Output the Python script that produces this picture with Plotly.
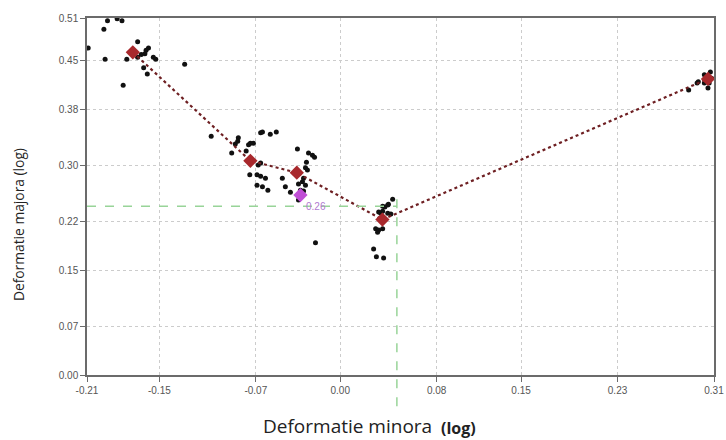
import plotly.graph_objects as go

# Measured strain points (log scale): minor strain vs major strain
minor_strain = [
    -0.193, -0.181, -0.185, -0.196, -0.209, -0.168, -0.159, -0.161, -0.168, -0.177,
    -0.195, -0.155, -0.153, -0.163, -0.160, -0.129, -0.180, -0.165, -0.162,
    -0.107, -0.0845, -0.085, -0.087, -0.066, -0.0645, -0.058, -0.053, -0.0745, -0.072,
    -0.076, -0.090, -0.078, -0.066, -0.068, -0.075, -0.069, -0.066, -0.062, -0.069,
    -0.0645, -0.060, -0.048, -0.0455, -0.0355, -0.0263, -0.023, -0.0213, -0.028, -0.0288,
    -0.0272, -0.0304, -0.0313, -0.0346, -0.0288, -0.0413, -0.033, -0.0304, -0.0346, -0.0205,
    0.0435, 0.0394, 0.040, 0.037, 0.0352, 0.0319, 0.0352, 0.0336, 0.0394, 0.042,
    0.0294, 0.0319, 0.0352, 0.031, 0.0277, 0.030, 0.036,
    0.289, 0.296, 0.297, 0.302, 0.305, 0.308, 0.3035, 0.306, 0.302, 0.305, 0.307,
]
major_strain = [
    0.506, 0.506, 0.509, 0.494, 0.467, 0.476, 0.467, 0.464, 0.454, 0.451,
    0.451, 0.454, 0.451, 0.439, 0.430, 0.444, 0.414, 0.458, 0.459,
    0.341, 0.339, 0.334, 0.330, 0.346, 0.347, 0.344, 0.347, 0.331, 0.331,
    0.329, 0.317, 0.320, 0.303, 0.300, 0.286, 0.286, 0.284, 0.281, 0.271,
    0.269, 0.264, 0.281, 0.269, 0.323, 0.317, 0.314, 0.311, 0.304, 0.296,
    0.293, 0.281, 0.276, 0.273, 0.271, 0.261, 0.264, 0.263, 0.250, 0.189,
    0.251, 0.243, 0.244, 0.240, 0.241, 0.233, 0.234, 0.231, 0.231, 0.230,
    0.209, 0.207, 0.209, 0.204, 0.180, 0.169, 0.167,
    0.407, 0.417, 0.419, 0.429, 0.426, 0.424, 0.419, 0.417, 0.417, 0.410, 0.433,
]

# Mean points of each group, joined by the forming limit path
mean_minor = [-0.172, -0.0745, -0.036, 0.035, 0.305]
mean_major = [0.461, 0.306, 0.289, 0.222, 0.423]

# Highlighted reference point
ref_minor = [-0.033]
ref_major = [0.257]
ref_label = "0.26"

# Guide lines (green dashed)
guide_x = 0.047
guide_y = 0.241

x_ticks = [-0.21, -0.15, -0.07, 0.00, 0.08, 0.15, 0.23, 0.31]
x_tick_text = ["-0.21", "-0.15", "-0.07", "0.00", "0.08", "0.15", "0.23", "0.31"]
y_ticks = [0.00, 0.07, 0.15, 0.22, 0.30, 0.38, 0.45, 0.51]
y_tick_text = ["0.00", "0.07", "0.15", "0.22", "0.30", "0.38", "0.45", "0.51"]

x_range = [-0.21, 0.31]
y_range = [0.0, 0.51]

fig = go.Figure()

fig.add_trace(go.Scatter(
    x=minor_strain, y=major_strain, mode="markers",
    marker=dict(color="#111111", size=5),
    hoverinfo="x+y", showlegend=False,
))

fig.add_trace(go.Scatter(
    x=mean_minor, y=mean_major, mode="lines",
    line=dict(color="#6e1f22", width=2.2, dash="dot"),
    showlegend=False,
))

fig.add_trace(go.Scatter(
    x=mean_minor, y=mean_major, mode="markers",
    marker=dict(color="#a8282c", size=11, symbol="diamond"),
    showlegend=False,
))

fig.add_trace(go.Scatter(
    x=ref_minor, y=ref_major, mode="markers",
    marker=dict(color="#c04fd6", size=11, symbol="diamond"),
    showlegend=False,
))

fig.add_annotation(
    x=ref_minor[0], y=ref_major[0], text=ref_label, showarrow=False,
    xshift=16, yshift=-11,
    font=dict(family="Liberation Sans Narrow, Liberation Sans, Arial", size=10, color="#b07ad0"),
)

# Green dashed guides
guide_style = dict(color="#98d498", width=1.5, dash="dash")
fig.add_shape(type="line", xref="x", yref="y", x0=x_range[0], x1=guide_x,
              y0=guide_y, y1=guide_y, line=guide_style, layer="above")
fig.add_shape(type="line", xref="x", yref="paper", x0=guide_x, x1=guide_x,
              y0=(guide_y + 0.01 - y_range[0]) / (y_range[1] - y_range[0]), y1=-0.11,
              line=guide_style, layer="above")

axis_font = dict(family="Liberation Sans Narrow, Liberation Sans, Arial", size=10, color="#555555")
title_family = "Open Sans, DejaVu Sans, sans-serif"

# Axis titles
fig.add_annotation(
    xref="paper", yref="paper", x=0.416, y=-0.143, xanchor="center", yanchor="middle",
    text="Deformatie minora", showarrow=False,
    font=dict(family=title_family, size=19, color="#222222"),
)
fig.add_annotation(
    xref="paper", yref="paper", x=0.592, y=-0.149, xanchor="center", yanchor="middle",
    text="<b>(log)</b>", showarrow=False,
    font=dict(family=title_family, size=16, color="#222222"),
)
fig.add_annotation(
    xref="paper", yref="paper", x=-0.11, y=0.42, xanchor="center", yanchor="middle",
    text="Deformatie majora (log)", textangle=-90, showarrow=False,
    font=dict(family=title_family, size=13.8, color="#222222"),
)

common_axis = dict(
    showline=True, linecolor="#6b6b6b", linewidth=1.5, mirror=True,
    ticks="outside", ticklen=5, tickcolor="#6b6b6b", tickwidth=1,
    showgrid=True, gridcolor="#cccccc", griddash="dot", gridwidth=1,
    zeroline=False, tickfont=axis_font, automargin=False,
)

fig.update_xaxes(range=x_range, tickmode="array", tickvals=x_ticks,
                 ticktext=x_tick_text, **common_axis)
fig.update_yaxes(range=y_range, tickmode="array", tickvals=y_ticks,
                 ticktext=y_tick_text, **common_axis)

fig.update_layout(
    width=726, height=440,
    margin=dict(l=87, r=12, t=18, b=65),
    plot_bgcolor="white", paper_bgcolor="white",
    showlegend=False,
)

fig.write_html("out.html")
